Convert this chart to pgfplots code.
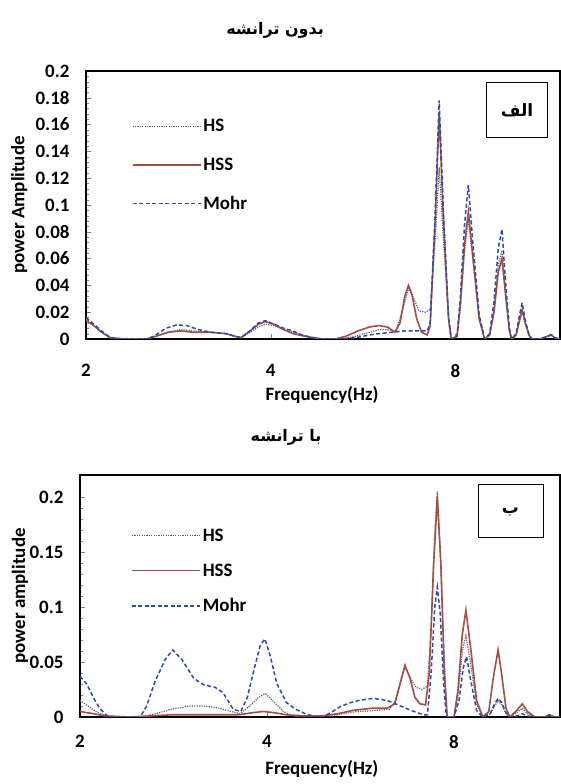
\documentclass[border=0pt]{standalone}
\usepackage{fontspec}
\setmainfont{Carlito}
\newfontfamily\arabicfont[Script=Arabic]{DejaVu Sans}
\TeXXeTstate=1
\usepackage{pgfplots}
\pgfplotsset{compat=1.18}
\definecolor{hss}{RGB}{160,78,70}
\definecolor{mohr}{RGB}{45,75,170}
\definecolor{hsc}{RGB}{95,95,95}
\tikzset{
  hsst/.style={color=hsc, line width=1.2bp, dash pattern=on 1.2bp off 1.2bp},
  hssst/.style={color=hss, line width=1.6bp},
  mohrst/.style={color=mohr, line width=1.5bp, dash pattern=on 4bp off 2.5bp},
}
\pgfplotsset{
  every axis/.append style={
    scale only axis, xmin=2, xmax=11.85, ymin=0,
    xtick pos=bottom, ytick pos=left,
    tick align=inside, major tick length=5bp, minor tick length=3.5bp,
    axis line style={line width=1.1bp},
    scaled y ticks=false,
    /pgf/number format/assume math mode=true,
    tick label style={font=\fontsize{19}{19}\selectfont\bfseries},
    label style={font=\fontsize{19}{19}\selectfont\bfseries},
    legend cell align=left,
    legend style={draw=none, fill=none,
      font=\fontsize{19}{19}\selectfont\bfseries},
  },
  legend image code/.code={\draw[#1] (0bp,0bp) -- (68bp,0bp);},
}
\begin{document}
\begin{tikzpicture}
\path[use as bounding box] (0,0) rectangle (561bp,784bp);
% ---------- top panel ----------
\begin{axis}[xmode=log, log basis x=2,
  xtick={2,4,8}, xticklabels={2,4,8}, xminorticks=false,
  xticklabel style={yshift=-22bp},
  yticklabel style={/pgf/number format/fixed, anchor=east, xshift=-13bp},
  at={(86bp,445bp)}, anchor=south west,
  width=474bp, height=268bp, ymax=0.2,
  ytick={0,0.02,0.04,0.06,0.08,0.1,0.12,0.14,0.16,0.18,0.2},
  minor y tick num=4,
  xlabel={Frequency(Hz)}, ylabel={power Amplitude},
  xlabel style={at={(axis description cs:0.498,-0.209)}, anchor=center},
  ylabel style={at={(axis description cs:-0.141,0.5)}, anchor=center},
  legend style={at={(0.09,0.835)}, anchor=north west, row sep=20.5bp}]
\addplot[hsst] coordinates {
(2.00,0.015)(2.06,0.010)(2.12,0.005)(2.19,0.001)(2.30,0)(2.50,0)(2.60,0.002)
(2.72,0.005)(2.85,0.007)(3.00,0.006)(3.20,0.005)(3.38,0.004)(3.50,0.002)
(3.58,0.001)(3.70,0.005)(3.82,0.009)(3.92,0.011)(4.05,0.010)(4.20,0.007)
(4.35,0.005)(4.50,0.003)(4.68,0.001)(4.85,0)(5.20,0)(5.50,0.002)(5.80,0.005)
(6.00,0.007)(6.20,0.007)(6.40,0.006)(6.55,0.020)(6.71,0.038)(6.85,0.030)
(6.98,0.021)(7.15,0.020)(7.28,0.022)(7.42,0.075)(7.53,0.128)(7.65,0.075)
(7.80,0.015)(7.88,0)(8.05,0.002)(8.15,0.022)(8.28,0.065)(8.40,0.090)
(8.55,0.058)(8.75,0.015)(8.93,0)(9.10,0.003)(9.25,0.022)(9.40,0.055)
(9.53,0.066)(9.65,0.038)(9.80,0.006)(9.88,0)(10.05,0.003)(10.18,0.013)
(10.28,0.020)(10.40,0.011)(10.55,0.003)(10.67,0)(11.00,0)(11.30,0.002)
(11.46,0.004)(11.60,0.001)(11.85,0)};
\addlegendentry{HS}
\addplot[hssst] coordinates {
(2.00,0.014)(2.06,0.010)(2.12,0.005)(2.19,0.001)(2.30,0)(2.50,0)(2.60,0.002)
(2.72,0.005)(2.85,0.006)(3.00,0.005)(3.20,0.005)(3.38,0.004)(3.50,0.002)
(3.58,0.001)(3.70,0.006)(3.82,0.011)(3.92,0.013)(4.05,0.011)(4.20,0.007)
(4.35,0.004)(4.55,0.002)(4.70,0.001)(4.85,0)(5.10,0)(5.30,0.002)(5.55,0.006)
(5.80,0.009)(6.00,0.010)(6.20,0.009)(6.38,0.005)(6.50,0.012)(6.62,0.032)
(6.71,0.040)(6.80,0.033)(6.92,0.015)(7.05,0.005)(7.20,0.003)(7.28,0.010)
(7.42,0.090)(7.53,0.168)(7.65,0.090)(7.80,0.015)(7.88,0)(8.05,0.002)
(8.15,0.025)(8.28,0.070)(8.40,0.095)(8.55,0.060)(8.75,0.015)(8.93,0)
(9.10,0.003)(9.25,0.020)(9.40,0.050)(9.53,0.060)(9.65,0.035)(9.80,0.006)
(9.88,0)(10.05,0.003)(10.18,0.014)(10.28,0.022)(10.40,0.012)(10.55,0.003)
(10.67,0)(11.00,0)(11.30,0.002)(11.46,0.003)(11.60,0.001)(11.85,0)};
\addlegendentry{HSS}
\addplot[mohrst] coordinates {
(2.00,0.016)(2.06,0.011)(2.12,0.006)(2.19,0.001)(2.30,0)(2.52,0)(2.60,0.003)
(2.70,0.008)(2.81,0.0105)(2.92,0.010)(3.05,0.007)(3.20,0.005)(3.38,0.004)
(3.50,0.002)(3.58,0.001)(3.70,0.006)(3.82,0.012)(3.92,0.0137)(4.05,0.011)
(4.20,0.008)(4.35,0.006)(4.50,0.003)(4.68,0.001)(4.85,0)(5.20,0)(5.50,0.001)
(5.80,0.003)(6.00,0.004)(6.30,0.005)(6.60,0.006)(6.90,0.006)(7.20,0.006)
(7.28,0.012)(7.42,0.095)(7.53,0.178)(7.65,0.095)(7.80,0.015)(7.88,0)
(8.05,0.002)(8.15,0.030)(8.28,0.085)(8.40,0.115)(8.55,0.070)(8.75,0.018)
(8.93,0)(9.10,0.004)(9.25,0.028)(9.40,0.068)(9.53,0.082)(9.65,0.045)
(9.80,0.008)(9.88,0)(10.05,0.004)(10.18,0.018)(10.28,0.027)(10.40,0.014)
(10.55,0.003)(10.67,0)(11.00,0)(11.30,0.002)(11.46,0.003)(11.60,0.001)(11.85,0)};
\addlegendentry{Mohr}
\end{axis}
% ---------- bottom panel ----------
\begin{axis}[xmode=log, log basis x=2,
  xtick={2,4,8}, xticklabels={2,4,8}, xminorticks=false,
  xticklabel style={yshift=-15bp},
  yticklabel style={/pgf/number format/fixed, anchor=east, xshift=-13bp},
  at={(80bp,67bp)}, anchor=south west,
  width=480bp, height=242bp, ymax=0.22,
  ytick={0,0.05,0.1,0.15,0.2},
  minor y tick num=4,
  xlabel={Frequency(Hz)}, ylabel={power amplitude},
  xlabel style={at={(axis description cs:0.504,-0.215)}, anchor=center},
  ylabel style={at={(axis description cs:-0.125,0.5)}, anchor=center},
  legend style={at={(0.10,0.795)}, anchor=north west, row sep=17bp}]
\addplot[hsst] coordinates {
(2.00,0.015)(2.06,0.010)(2.12,0.005)(2.20,0.001)(2.30,0)(2.50,0)(2.65,0.003)
(2.80,0.007)(3.00,0.010)(3.17,0.010)(3.35,0.008)(3.50,0.005)(3.62,0.003)
(3.75,0.010)(3.90,0.019)(3.98,0.021)(4.10,0.014)(4.25,0.005)(4.40,0.001)
(4.60,0)(5.00,0)(5.30,0.003)(5.60,0.005)(6.00,0.006)(6.30,0.007)(6.45,0.015)
(6.58,0.035)(6.67,0.045)(6.80,0.036)(6.95,0.027)(7.10,0.025)(7.25,0.028)
(7.35,0.080)(7.44,0.160)(7.52,0.205)(7.60,0.150)(7.72,0.050)(7.80,0)
(8.00,0)(8.12,0.020)(8.25,0.060)(8.36,0.074)(8.50,0.050)(8.70,0.012)
(8.90,0)(9.15,0.003)(9.30,0.010)(9.42,0.015)(9.55,0.011)(9.70,0.003)
(9.84,0)(10.10,0.004)(10.30,0.008)(10.50,0.003)(10.80,0)(11.20,0)
(11.40,0.001)(11.60,0)(11.85,0)};
\addlegendentry{HS}
\addplot[hssst] coordinates {
(2.00,0.005)(2.10,0.003)(2.20,0.001)(2.40,0)(2.60,0.001)(2.80,0.002)
(3.00,0.002)(3.30,0.002)(3.60,0.002)(3.80,0.004)(3.95,0.005)(4.10,0.004)
(4.30,0.002)(4.60,0.001)(4.90,0.001)(5.20,0.003)(5.50,0.006)(5.90,0.008)
(6.25,0.008)(6.42,0.012)(6.55,0.030)(6.67,0.047)(6.80,0.035)(6.92,0.018)
(7.05,0.012)(7.20,0.011)(7.30,0.040)(7.42,0.140)(7.52,0.200)(7.62,0.140)
(7.72,0.040)(7.80,0)(8.00,0)(8.12,0.025)(8.25,0.075)(8.36,0.097)
(8.50,0.065)(8.70,0.015)(8.90,0)(9.10,0.005)(9.25,0.035)(9.42,0.061)
(9.55,0.038)(9.70,0.008)(9.84,0)(10.10,0.006)(10.30,0.012)(10.50,0.005)
(10.80,0)(11.20,0)(11.40,0.002)(11.60,0)(11.85,0)};
\addlegendentry{HSS}
\addplot[mohrst] coordinates {
(2.00,0.037)(2.05,0.030)(2.10,0.018)(2.15,0.008)(2.22,0)(2.50,0)(2.56,0.010)
(2.64,0.032)(2.74,0.052)(2.82,0.061)(2.92,0.052)(3.05,0.035)(3.17,0.029)
(3.30,0.027)(3.40,0.022)(3.53,0.007)(3.63,0.005)(3.72,0.018)(3.80,0.040)
(3.90,0.065)(3.97,0.071)(4.05,0.055)(4.15,0.030)(4.30,0.013)(4.45,0.007)
(4.61,0.003)(4.80,0)(4.92,0)(5.10,0.005)(5.27,0.010)(5.45,0.013)(5.62,0.015)
(5.93,0.017)(6.25,0.015)(6.50,0.011)(6.69,0.008)(6.90,0.005)(7.14,0.002)
(7.25,0.002)(7.35,0.040)(7.45,0.100)(7.52,0.118)(7.60,0.095)(7.70,0.030)
(7.78,0)(8.00,0)(8.15,0.015)(8.28,0.045)(8.38,0.055)(8.50,0.035)(8.70,0.006)
(8.90,0)(9.15,0.003)(9.30,0.012)(9.42,0.017)(9.55,0.013)(9.70,0.004)
(9.84,0)(10.10,0.001)(10.30,0.003)(10.50,0.001)(10.80,0)(11.20,0)
(11.40,0.002)(11.60,0)(11.85,0)};
\addlegendentry{Mohr}
\end{axis}
% ---------- titles and panel tags ----------
\node[font=\fontsize{16}{16}\selectfont] at (275bp,754bp) {\arabicfont\bfseries\beginR بدون ترانشه\endR};
\node[font=\fontsize{16}{16}\selectfont] at (286bp,347bp) {\arabicfont\bfseries\beginR با ترانشه\endR};
\node[draw, line width=1bp, minimum width=61bp, minimum height=55bp,
  font=\fontsize{17}{17}\selectfont] at (517bp,674bp) {\arabicfont\bfseries\beginR الف\endR};
\node[draw, line width=1bp, minimum width=65bp, minimum height=53bp,
  font=\fontsize{17}{17}\selectfont] at (510.5bp,272.5bp) {\arabicfont\bfseries\beginR ب\endR};
\end{tikzpicture}
\end{document}
